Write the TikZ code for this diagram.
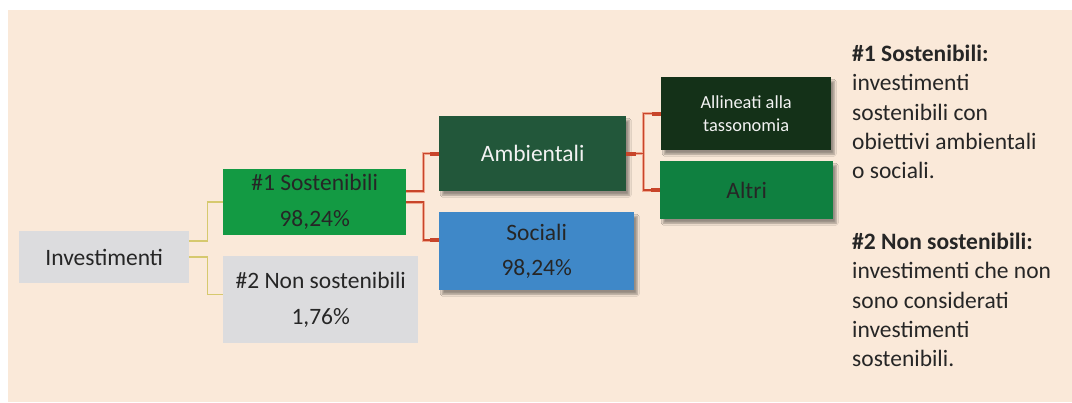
\documentclass[tikz,border=0pt]{standalone}
\usepackage{fontspec}
\setmainfont{Carlito}
\usetikzlibrary{shadows.blur}
\definecolor{bg}{HTML}{FAE9D9}
\definecolor{lgray}{HTML}{DCDCDE}
\definecolor{sgreen}{HTML}{139A43}
\definecolor{dgreen}{HTML}{22573A}
\definecolor{vdgreen}{HTML}{143118}
\definecolor{mgreen}{HTML}{0F8040}
\definecolor{sblue}{HTML}{3F88C8}
\definecolor{txt}{HTML}{262626}
\definecolor{wtxt}{HTML}{F2F2F2}
\definecolor{ylw}{HTML}{D6C96E}
\definecolor{rd}{HTML}{C8452A}
\definecolor{rdh}{HTML}{F0A890}
\tikzset{
  box/.style={anchor=north west, inner sep=0pt, align=center, font=\fontsize{23.5}{36}\selectfont},
  shad/.style={blur shadow={shadow xshift=3pt, shadow yshift=-4pt, shadow blur steps=6, shadow opacity=40}},
  yline/.style={draw=ylw, line width=1.6pt},
  rhalo/.style={draw=rdh, line width=3.2pt},
  rline/.style={draw=rd, line width=1.6pt},
  stub/.style={draw=rd, line width=4pt},
  side/.style={anchor=north west, inner sep=0pt, align=left, text=txt, font=\fontsize{23.5}{29.3}\selectfont}
}
\begin{document}
\begin{tikzpicture}[x=1pt,y=-1pt]
\useasboundingbox (0,0) rectangle (1072,403);
\fill[bg] (8,10) rectangle (1072,402);

\node[box, fill=lgray, text=txt, minimum width=170pt, minimum height=52pt] (inv) at (19,231) {Investimenti};
\node[box, fill=sgreen, text=txt, minimum width=183pt, minimum height=66pt] (sost) at (223,169) {\#1 Sostenibili\\98,24\%};
\node[box, fill=lgray, text=txt, minimum width=195pt, minimum height=87pt] (nsost) at (223,256) {\#2 Non sostenibili\\1,76\%};
\node[box, shad, fill=dgreen, text=wtxt, minimum width=187pt, minimum height=75pt] (amb) at (439,116) {Ambientali};
\node[box, shad, fill=sblue, text=txt, minimum width=195pt, minimum height=78pt, font=\fontsize{23.5}{35}\selectfont] (soc) at (439,212) {Sociali\\98,24\%};
\node[box, shad, fill=vdgreen, text=wtxt, minimum width=170pt, minimum height=73pt, font=\fontsize{18.4}{23}\selectfont] (alli) at (661,77) {Allineati alla\\tassonomia};
\node[box, shad, fill=mgreen, text=txt, minimum width=173pt, minimum height=58pt] (altri) at (660,161) {Altri};

% yellow connectors
\draw[yline] ([yshift=16pt]inv.east) -- ++(18,0) |- (sost.west);
\draw[yline] (inv.east) -- ++(18,0) |- ([yshift=5pt]nsost.west);

% red connectors
\foreach \s in {rhalo, rline} {
  \draw[\s] ([yshift=11pt]sost.east) -- ++(17,0) |- (amb.west);
  \draw[\s] (sost.east) -- ++(17,0) |- ([yshift=11pt]soc.west);
  \draw[\s] (amb.east) -- ++(17,0) |- (alli.west);
  \draw[\s] (amb.east) -- ++(17,0) |- (altri.west);
}
\draw[stub] ([xshift=-9pt]amb.west) -- (amb.west);
\draw[stub] ([xshift=-9pt,yshift=11pt]soc.west) -- ([yshift=11pt]soc.west);
\draw[stub] (amb.east) -- ([xshift=10pt]amb.east);
\draw[stub] ([xshift=-9pt]alli.west) -- (alli.west);
\draw[stub] ([xshift=-9pt]altri.west) -- (altri.west);

% side texts
\node[side] (t1) at (852,45) {\textbf{\#1 Sostenibili:}\\investimenti\\sostenibili con\\obiettivi ambientali\\o sociali.};
\node[side] (t2) at (852,233) {\textbf{\#2 Non sostenibili:}\\investimenti che non\\sono considerati\\investimenti\\sostenibili.};
\end{tikzpicture}
\end{document}
